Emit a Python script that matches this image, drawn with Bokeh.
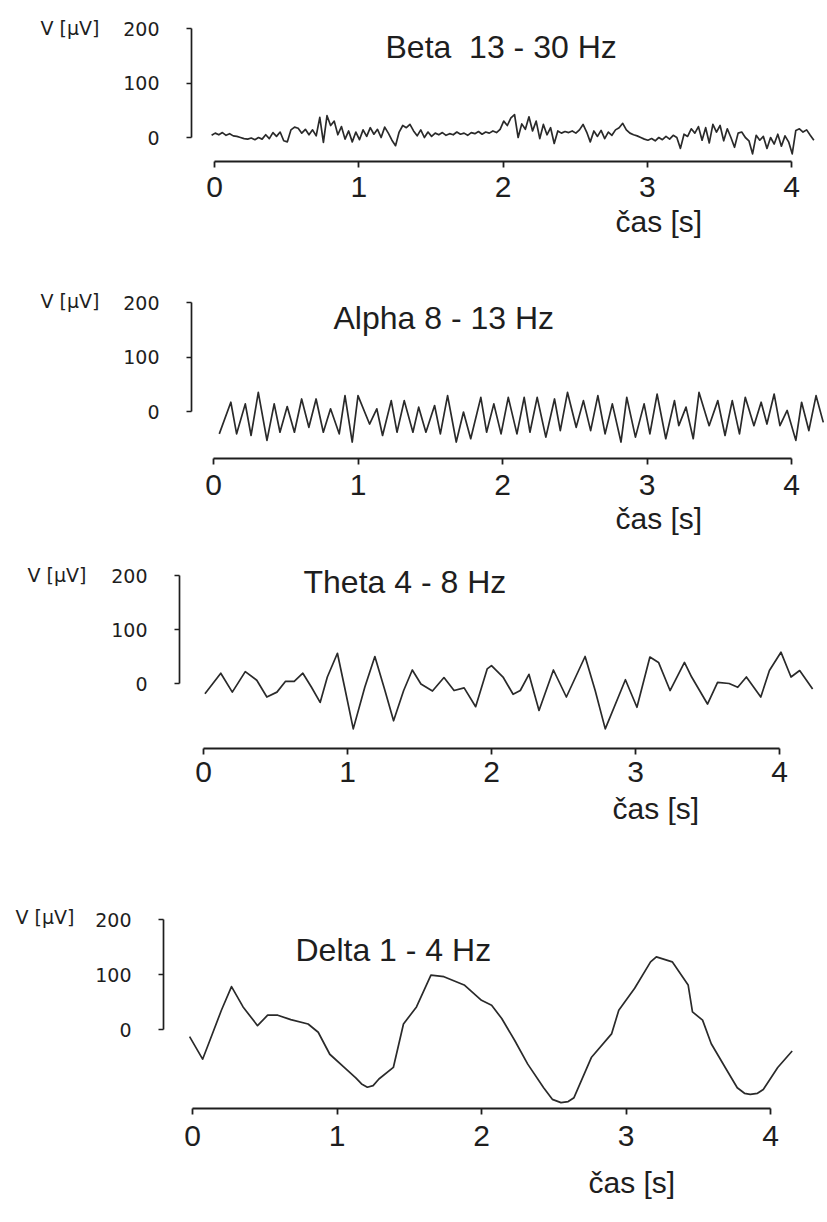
import numpy as np
from bokeh.plotting import figure
from bokeh.layouts import column
from bokeh.models import Range1d, FixedTicker, Label
from bokeh.embed import file_html
from bokeh.resources import INLINE

PAGE_W = 827

# ---------------- data ----------------
X_TICKS = [0, 1, 2, 3, 4]
Y_TICKS = [0, 100, 200]
Y_LABEL = "V [µV]"
X_LABEL = "čas [s]"
TITLES = ["Beta\u00a0 13 - 30 Hz", "Alpha 8 - 13 Hz", "Theta 4 - 8 Hz", "Delta 1 - 4 Hz"]

# Beta: samples every 0.025 s starting at -0.02 s (values in µV)
beta_t0 = -0.02
beta_dt = 0.025
beta_uv = [4, 8, 5, 9, 4, 7, 3, 2, 0, -2, -3, -1, -4, 0, -3,
           5, -2, 9, 2, 10, -6, -8,
           14, 19, 17, 8, 15, 5, 14, 3,
           37, -9, 40, 22, 30, 5, 20, -3,
           12, -8, 10, -4, 14,
           2, 18, 6, 15, 0, 19, 8, -5, -15, 10,
           22, 18, 24, 12,
           3, 14, 0, 10, 2, 8,
           5, 9, 4, 7, 5, 10, 6, 8, 4, 9, 7, 11, 6, 10, 8, 12,
           9, 15, 30, 22, 36, 42, 0, 25, 15, 38, 12, 30, -2, 24, 5, 18, -11, 12, 8, 11,
           9, 12, 8, 14, 24, 10, -8, 12, 2, 13, -2, 10, 4, 14, 18, 26, 14, 8, 5, 3,
           0, -3, -5, -2, -6, 0, -4, 2, -3, 4, 0, -20, 6, 2, 16, 8, 20, -5, 18, -10,
           24, 10, 22, -6, 16, 0, -18, 8, 10, 0, -6, -30, 4, -5, 2, -20, 0, -12, 6, -16,
           3, -8, -30, 13, 16, 10, 14, 4, -5]
beta_t = [beta_t0 + beta_dt * i for i in range(len(beta_uv))]

# Alpha: peaks and troughs
alpha_t = [0.04, 0.12, 0.16, 0.22, 0.26, 0.31, 0.37, 0.42, 0.46, 0.51, 0.56, 0.61, 0.66, 0.71,
           0.76, 0.81, 0.87, 0.91, 0.96, 1.00, 1.08, 1.13, 1.17, 1.23, 1.27, 1.32, 1.38, 1.42,
           1.47, 1.53, 1.57, 1.62, 1.68, 1.73, 1.78, 1.85, 1.89, 1.94, 1.99, 2.04, 2.10, 2.15,
           2.19, 2.24, 2.30, 2.36, 2.40, 2.45, 2.51, 2.56, 2.61, 2.66, 2.71, 2.76, 2.82, 2.86,
           2.92, 2.98, 3.02, 3.07, 3.13, 3.19, 3.22, 3.27, 3.32, 3.36, 3.43, 3.49, 3.54, 3.59,
           3.64, 3.68, 3.74, 3.79, 3.83, 3.88, 3.92, 3.97, 4.03, 4.07, 4.12, 4.17, 4.22]
alpha_uv = [-41, 17, -41, 14, -44, 35, -53, 14, -38, 9, -38, 23, -29, 23,
            -38, 5, -41, 29, -56, 29, -23, 5, -44, 20, -38, 20, -38, 8,
            -38, 11, -41, 29, -56, -1, -50, 26, -38, 14, -41, 26, -41, 26,
            -38, 26, -47, 23, -35, 35, -29, 20, -35, 29, -41, 14, -56, 26,
            -47, 14, -41, 32, -50, 20, -26, 8, -50, 35, -26, 20, -44, 20,
            -41, 26, -26, 17, -23, 32, -26, 2, -53, 17, -35, 29, -20]

theta_t = [0.01, 0.12, 0.20, 0.29, 0.37, 0.44, 0.51, 0.57, 0.63, 0.69,
           0.75, 0.81, 0.86, 0.93, 0.98, 1.04, 1.12, 1.19, 1.26, 1.32,
           1.39, 1.45, 1.51, 1.59, 1.67, 1.74, 1.81, 1.89, 1.97, 2.00,
           2.08, 2.15, 2.20, 2.26, 2.33, 2.43, 2.52, 2.65, 2.72, 2.79,
           2.93, 3.01, 3.10, 3.16, 3.24, 3.34, 3.39, 3.50, 3.57, 3.65,
           3.71, 3.77, 3.87, 3.93, 4.01, 4.08, 4.14, 4.23]
theta_uv = [-19, 19, -16, 22, 6, -25, -16, 4, 4, 19,
            -7, -35, 12, 56, -7, -84, -7, 50, -13, -69,
            -13, 25, -1, -14, 11, -13, -8, -43, 27, 33,
            12, -20, -13, 17, -50, 25, -25, 50, -13, -84,
            7, -44, 49, 39, -13, 39, 12, -38, 2, 0,
            -7, 12, -25, 24, 58, 12, 24, -10]

delta_t = [-0.02, 0.07, 0.12, 0.20, 0.27, 0.35, 0.45, 0.52, 0.59, 0.68,
           0.80, 0.87, 0.95, 1.05, 1.13, 1.17, 1.21, 1.25, 1.29, 1.39, 1.46, 1.55,
           1.65, 1.74, 1.88, 2.00, 2.07, 2.14, 2.23, 2.32, 2.43, 2.49, 2.55, 2.60,
           2.64, 2.76, 2.90, 2.95, 3.06, 3.17, 3.21, 3.32, 3.43, 3.46,
           3.53, 3.59, 3.70, 3.77, 3.82, 3.86, 3.91, 3.95, 4.05, 4.15]
delta_uv = [-13, -54, -20, 35, 78, 41, 7, 26, 26, 18,
            10, -5, -45, -69, -88, -99, -105, -102, -90, -69, 10, 41,
            99, 96, 81, 53, 44, 20, -20, -63, -106, -127, -133, -131,
            -124, -51, -8, 35, 75, 123, 132, 123, 81, 32,
            17, -26, -75, -106, -116, -118, -116, -109, -69, -39]

# ---------------- layout (page pixel geometry) ----------------
BIG_FONT = "Liberation Sans"
SMALL_FONT = "DejaVu Sans"
INK = "#1e1e1e"

GEOM = [
    dict(fig_top=0, fig_h=262, yaxis=191, x0=214, x4=791, y0=137, y200=28, xaxis=161,
         title=(385, 46), vlab=(40, 27), cas=(615, 221), lab_off=9),
    dict(fig_top=262, fig_h=286, yaxis=191, x0=213, x4=791, y0=411, y200=302, xaxis=458,
         title=(333, 317), vlab=(40, 300), cas=(615, 518), lab_off=10),
    dict(fig_top=548, fig_h=327, yaxis=179, x0=203, x4=779, y0=683, y200=575, xaxis=748,
         title=(303, 581), vlab=(27, 574), cas=(612, 808), lab_off=7),
    dict(fig_top=875, fig_h=347, yaxis=163, x0=192, x4=770, y0=1029, y200=919, xaxis=1108,
         title=(295, 949), vlab=(15, 916), cas=(588, 1182), lab_off=11),
]


def make_panel(t, uv, title, g):
    top = g["fig_top"]
    h = g["fig_h"]
    pps = (g["x4"] - g["x0"]) / 4.0
    ppv = (g["y0"] - g["y200"]) / 200.0

    def tx(px):
        return (px - g["x0"]) / pps

    def vy(py):
        return (g["y0"] - py) / ppv

    p = figure(width=PAGE_W, height=h, title=None, output_backend="svg", toolbar_location=None,
               x_range=Range1d(tx(0), tx(PAGE_W)),
               y_range=Range1d(vy(top + h), vy(top)),
               min_border=0, min_border_left=0, min_border_right=0,
               min_border_top=0, min_border_bottom=0)
    p.outline_line_color = None
    p.grid.visible = False
    p.background_fill_color = "white"
    p.border_fill_color = "white"

    p.line(t, uv, line_color="#2a2a2a", line_width=1.7, line_join="round")

    ya = p.yaxis[0]
    ya.fixed_location = tx(g["yaxis"])
    ya.ticker = FixedTicker(ticks=Y_TICKS)
    ya.bounds = (0, 200)
    ya.minor_tick_line_color = None
    ya.major_tick_in = 0
    ya.major_tick_out = 5
    ya.axis_line_color = INK
    ya.axis_line_width = 1.7
    ya.major_tick_line_color = INK
    ya.major_tick_line_width = 1.7
    ya.major_label_text_font = SMALL_FONT
    ya.major_label_text_font_size = "19px"
    ya.major_label_text_color = INK
    ya.major_label_standoff = 27

    xa = p.xaxis[0]
    xa.fixed_location = vy(g["xaxis"])
    xa.ticker = FixedTicker(ticks=X_TICKS)
    xa.bounds = (0, 4)
    xa.minor_tick_line_color = None
    xa.major_tick_in = 0
    xa.major_tick_out = 6
    xa.axis_line_color = INK
    xa.axis_line_width = 1.8
    xa.major_tick_line_color = INK
    xa.major_tick_line_width = 1.8
    xa.major_label_text_font = BIG_FONT
    xa.major_label_text_font_size = "30px"
    xa.major_label_text_color = INK
    xa.major_label_standoff = g["lab_off"]

    p.add_layout(Label(x=tx(g["title"][0]), y=vy(g["title"][1]), text=title,
                       text_font=BIG_FONT, text_font_size="32px", text_color=INK,
                       text_align="left", text_baseline="alphabetic"))
    p.add_layout(Label(x=tx(g["vlab"][0]), y=vy(g["vlab"][1]), text=Y_LABEL,
                       text_font=SMALL_FONT, text_font_size="19px", text_color=INK,
                       text_align="left", text_baseline="middle"))
    p.add_layout(Label(x=tx(g["cas"][0]), y=vy(g["cas"][1]), text=X_LABEL,
                       text_font=BIG_FONT, text_font_size="30px", text_color=INK,
                       text_align="left", text_baseline="alphabetic"))
    return p


panels = [
    make_panel(beta_t, beta_uv, TITLES[0], GEOM[0]),
    make_panel(alpha_t, alpha_uv, TITLES[1], GEOM[1]),
    make_panel(theta_t, theta_uv, TITLES[2], GEOM[2]),
    make_panel(delta_t, delta_uv, TITLES[3], GEOM[3]),
]

layout = column(*panels, spacing=0)
open("out.html", "w").write(file_html(layout, INLINE))
